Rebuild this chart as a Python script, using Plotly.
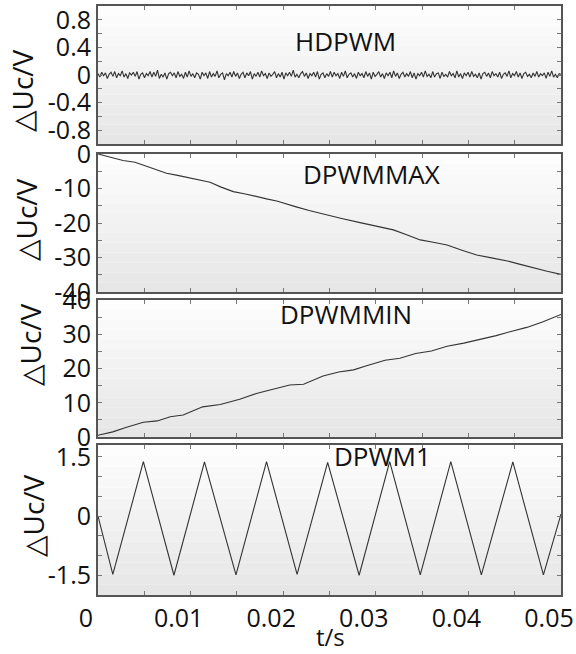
import numpy as np
import plotly.graph_objects as go

# ---------------- data ----------------
panel_names = ["HDPWM", "DPWMMAX", "DPWMMIN", "DPWM1"]
y_title = "△Uc/V"
x_title = "t/s"

x_tick_vals = [0, 0.005, 0.01, 0.015, 0.02, 0.025, 0.03, 0.035, 0.04, 0.045, 0.05]
x_tick_text = ["0", "", "0.01", "", "0.02", "", "0.03", "", "0.04", "", "0.05"]

# HDPWM: small ripple around zero
hdpwm_du = [
    0.02, -0.03, 0.04, -0.01, 0.03, -0.05, 0.01, 0.04, -0.02, 0.05,
    -0.04, 0.02, -0.01, 0.06, -0.03, 0.02, -0.05, 0.03, 0.00, 0.04,
    -0.02, 0.05, -0.06, 0.01, 0.03, -0.04, 0.02, -0.01, 0.05, -0.03,
    0.04, -0.02, 0.07, -0.05, 0.01, -0.03, 0.03, -0.06, 0.02, 0.04,
    -0.01, 0.03, -0.04, 0.05, -0.02, 0.01, -0.05, 0.04, -0.03, 0.06,
    -0.02, 0.02, -0.04, 0.03, 0.01, -0.06, 0.04, -0.01, 0.03, -0.05,
    0.05, -0.03, 0.02, -0.02, 0.06, -0.04, 0.01, 0.03, -0.07, 0.02,
    -0.01, 0.04, -0.03, 0.05, -0.02, 0.03, -0.05, 0.01, 0.04, -0.04,
    0.03, -0.01, 0.05, -0.06, 0.02, -0.02, 0.04, -0.03, 0.06, -0.01,
    0.02, -0.05, 0.03, -0.02, 0.01, 0.05, -0.04, 0.02, -0.03, 0.04,
    -0.06, 0.03, -0.01, 0.04, -0.02, 0.07, -0.03, 0.01, -0.04, 0.02,
    0.05, -0.02, 0.03, -0.05, 0.02, -0.01, 0.04, -0.03, 0.05, -0.06,
    0.01, 0.03, -0.04, 0.02, -0.02, 0.05, -0.03, 0.04, -0.01, 0.02,
    -0.05, 0.04, -0.02, 0.06, -0.04, 0.01, 0.03, -0.03, 0.02, -0.05,
    0.04, -0.01, 0.02, -0.04, 0.05, -0.02, 0.03, -0.06, 0.04, -0.02,
    0.01, 0.05, -0.03, 0.02, -0.05, 0.03, -0.01, 0.04, -0.04, 0.06,
    -0.02, 0.03, -0.05, 0.01, 0.04, -0.03, 0.02, -0.02, 0.05, -0.04,
    0.03, -0.06, 0.02, -0.01, 0.04, -0.03, 0.06, -0.02, 0.01, -0.04,
    0.05, -0.03, 0.02, 0.03, -0.05, 0.04, -0.02, 0.01, -0.03, 0.05,
    -0.01, 0.02, -0.04, 0.06, -0.03, 0.02, -0.05, 0.03, -0.01, 0.04,
    -0.03, 0.05, -0.02, 0.01, -0.04, 0.03, -0.06, 0.02, 0.04, -0.02,
    0.03, -0.04, 0.05, -0.01, 0.02, -0.03, 0.04, -0.05, 0.01, 0.03,
    -0.02, 0.06, -0.04, 0.02, -0.01, 0.05, -0.03, 0.03, -0.05, 0.02,
    0.04, -0.02, 0.01, -0.04, 0.03, -0.02, 0.05, -0.03, 0.02, -0.01,
    0.03, -0.05, 0.04, -0.02, 0.06, -0.03, 0.01, -0.04, 0.02, 0.01,
]
hdpwm_t = np.linspace(0, 0.05, len(hdpwm_du))

dpwmmax_t = [0, 0.0015, 0.0027, 0.004, 0.0049, 0.006, 0.0074, 0.0086, 0.0099, 0.0110,
             0.0121, 0.0133, 0.0146, 0.0158, 0.0171, 0.0182, 0.0193, 0.0204, 0.0215, 0.0228,
             0.024, 0.0262, 0.0283, 0.0300, 0.0319, 0.0334, 0.0348, 0.0362, 0.0377, 0.0393,
             0.0409, 0.0425, 0.0442, 0.0456, 0.047, 0.0485, 0.05]
dpwmmax_du = [0, -1.0, -1.9, -2.4, -3.2, -4.4, -5.6, -6.2, -7.0, -7.6,
              -8.2, -9.6, -10.9, -11.5, -12.4, -13.0, -13.6, -14.4, -15.4, -16.4,
              -17.1, -18.6, -19.9, -20.8, -22.0, -23.5, -24.9, -25.6, -26.4, -27.9,
              -29.3, -30.1, -31.0, -32.0, -33.0, -34.0, -34.9]

dpwmmin_t = [0, 0.0016, 0.003, 0.0049, 0.0064, 0.0078, 0.0092, 0.0113, 0.0132, 0.0153,
             0.0171, 0.0189, 0.0207, 0.0222, 0.0243, 0.026, 0.0276, 0.029, 0.031, 0.0326,
             0.0343, 0.036, 0.0377, 0.0395, 0.0413, 0.043, 0.0447, 0.0463, 0.048, 0.05]
dpwmmin_du = [0.5, 1.5, 2.8, 4.3, 4.7, 5.9, 6.4, 8.8, 9.5, 11.0,
              12.7, 13.9, 15.2, 15.4, 17.8, 19.0, 19.6, 20.8, 22.4, 23.0,
              24.4, 25.1, 26.5, 27.4, 28.5, 29.6, 30.9, 32.0, 33.6, 35.8]

dpwm1_t = [0, 0.0016, 0.0049, 0.0082, 0.0115, 0.0149, 0.0182, 0.0215, 0.0248,
           0.0282, 0.0315, 0.0348, 0.0381, 0.0414, 0.0448, 0.0481, 0.05]
dpwm1_du = [0.0, -1.48, 1.38, -1.50, 1.37, -1.49, 1.38, -1.48, 1.36,
            -1.50, 1.38, -1.49, 1.38, -1.49, 1.37, -1.49, 0.05]

y_ranges = [[-1, 1], [-40, 0], [0, 40], [-2.0, 1.8]]
y_tick_vals = [
    [-0.8, -0.6, -0.4, -0.2, 0, 0.2, 0.4, 0.6, 0.8],
    [-40, -35, -30, -25, -20, -15, -10, -5, 0],
    [0, 5, 10, 15, 20, 25, 30, 35, 40],
    [-1.5, -1.0, -0.5, 0, 0.5, 1.0, 1.5],
]
y_tick_text = [
    ["-0.8", "", "-0.4", "", "0", "", "0.4", "", "0.8"],
    ["-40", "", "-30", "", "-20", "", "-10", "", "0"],
    ["0", "", "10", "", "20", "", "30", "", "40"],
    ["-1.5", "", "", "0", "", "", "1.5"],
]

series = [(hdpwm_t, hdpwm_du), (dpwmmax_t, dpwmmax_du),
          (dpwmmin_t, dpwmmin_du), (dpwm1_t, dpwm1_du)]

# ---------------- layout geometry ----------------
W, H = 576, 654
ML, MR, MT, MB = 98, 15, 6, 59
PW, PH = W - ML - MR, H - MT - MB

panel_px = [(6, 144), (154, 292), (300, 437), (445, 595)]  # top, bottom in px


def py2paper(py):
    return (H - MB - py) / PH


def px2paper(px):
    return (px - ML) / PW


FONT = "Open Sans, DejaVu Sans, sans-serif"
TICKSIZE = 25
fig = go.Figure()
layout = dict(
    width=W, height=H,
    margin=dict(l=ML, r=MR, t=MT, b=MB, autoexpand=False),
    paper_bgcolor="white", plot_bgcolor="white",
    showlegend=False,
    font=dict(family=FONT, color="#111111"),
)

shapes = []
annotations = []
for i, ((t, v), name) in enumerate(zip(series, panel_names)):
    n = i + 1
    xa = "x" if n == 1 else f"x{n}"
    ya = "y" if n == 1 else f"y{n}"
    xkey = "xaxis" if n == 1 else f"xaxis{n}"
    ykey = "yaxis" if n == 1 else f"yaxis{n}"
    top, bot = panel_px[i]
    fig.add_trace(go.Scatter(x=list(t), y=list(v), mode="lines", xaxis=xa, yaxis=ya,
                             line=dict(color="#333333", width=1.1)))
    layout[xkey] = dict(
        domain=[0, 1], anchor=ya, range=[0, 0.05], automargin=False,
        tickmode="array", tickvals=x_tick_vals, ticktext=x_tick_text,
        showticklabels=(n == 4), ticks="inside", ticklen=4, tickcolor="#777777",
        showline=True, linecolor="#555555", linewidth=2, mirror="ticks",
        showgrid=False, zeroline=False,
        tickfont=dict(size=TICKSIZE, family=FONT, color="#111111"),
        ticklabelshift=-12, ticklabeloverflow="allow",
    )
    layout[ykey] = dict(
        domain=[py2paper(bot), py2paper(top)], anchor=xa, range=y_ranges[i],
        automargin=False,
        tickmode="array", tickvals=y_tick_vals[i], ticktext=y_tick_text[i],
        ticks="inside", ticklen=4, tickcolor="#777777",
        showline=True, linecolor="#555555", linewidth=2, mirror="ticks",
        showgrid=False, zeroline=False,
        tickfont=dict(size=TICKSIZE, family=FONT, color="#111111"),
        ticklabeloverflow="allow",
    )
    # subtle vertical gradient background
    N = 14
    for k in range(N):
        frac = k / (N - 1)
        c = int(round(0xE6 + (0xFD - 0xE6) * frac))
        shapes.append(dict(type="rect", xref=f"{xa} domain", yref=f"{ya} domain",
                           x0=0, x1=1, y0=k / N, y1=(k + 1) / N, layer="below",
                           line=dict(width=0), fillcolor=f"rgb({c},{c},{c})"))

# panel labels
label_pos = [(345, 41), (371, 174), (346, 314), (382, 456)]
for name, (lx, ly) in zip(panel_names, label_pos):
    annotations.append(dict(text=name, xref="paper", yref="paper",
                            x=px2paper(lx), y=py2paper(ly), showarrow=False,
                            xanchor="center", yanchor="middle",
                            font=dict(size=26, family=FONT, color="#111111")))

# y titles
ytitle_pos = [(22, 91), (26, 220), (30, 345), (33, 516)]
for (tx, ty) in ytitle_pos:
    annotations.append(dict(text=y_title, xref="paper", yref="paper",
                            x=px2paper(tx), y=py2paper(ty), showarrow=False,
                            textangle=-90, xanchor="center", yanchor="middle",
                            font=dict(size=28, family=FONT, color="#111111")))

annotations.append(dict(text=x_title, xref="paper", yref="paper",
                        x=px2paper(330), y=py2paper(636), showarrow=False,
                        xanchor="center", yanchor="middle",
                        font=dict(size=24, family=FONT, color="#111111")))

layout["shapes"] = shapes
layout["annotations"] = annotations
fig.update_layout(**layout)
fig.write_html("out.html")
